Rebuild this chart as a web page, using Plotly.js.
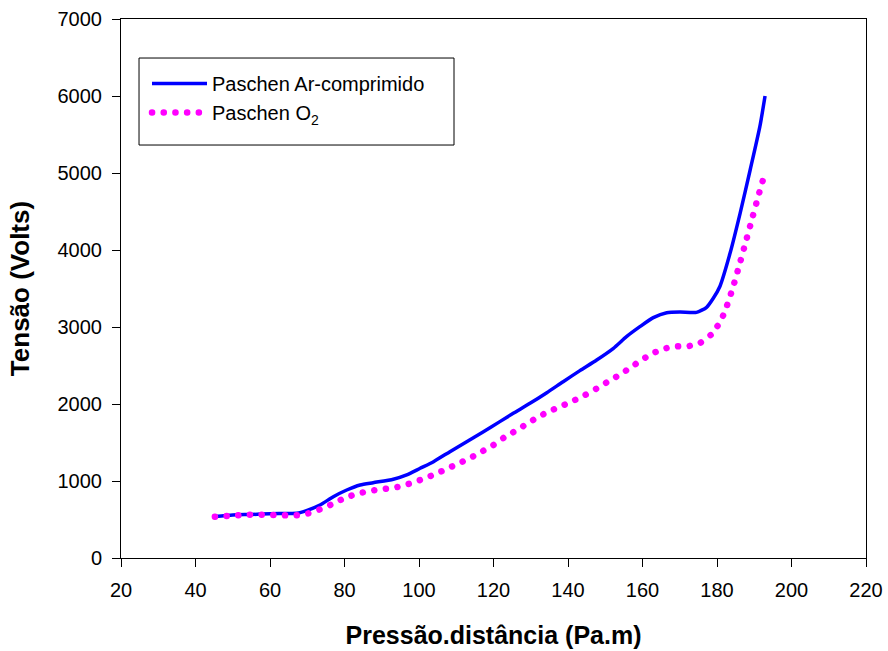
<!DOCTYPE html>
<html>
<head>
<meta charset="utf-8">
<script src="https://cdn.plot.ly/plotly-3.0.1.min.js"></script>
<style>
html,body{margin:0;padding:0;background:#fff;}
#chart{width:888px;height:651px;}
.o2dots path.js-line{stroke-linecap:round;}
</style>
</head>
<body>
<div id="chart"></div>
<script>
// Series: Paschen Ar-comprimido
var arX = [45.2, 50, 55, 60, 65, 67.2, 69.8, 73.4, 77.0, 80.6, 84.2, 87.7, 93.1, 96.7, 100.3, 103.9, 108.3, 112.8, 117.3, 121.7, 125.3, 129.8, 134.3, 138.7, 143.2, 147.7, 152.2, 155.7, 159.3, 162.9, 166.5, 170.1, 174.5, 177.2, 179.0, 180.8, 183.5, 186.2, 188.9, 191.5, 192.9];
var arV = [540, 560, 565, 575, 578, 580, 615, 688, 796, 883, 948, 978, 1022, 1078, 1165, 1251, 1381, 1511, 1640, 1771, 1879, 2009, 2147, 2290, 2433, 2571, 2723, 2874, 3004, 3121, 3186, 3195, 3190, 3256, 3373, 3530, 3957, 4476, 5039, 5602, 6000];

// Series: Paschen O2
var o2X = [45.2, 48.4, 54.6, 60.9, 67.2, 70.3, 73.4, 76.6, 79.5, 82.6, 85.8, 88.9, 91.9, 95.1, 98.2, 101.3, 104.4, 107.4, 110.5, 113.7, 116.8, 119.9, 122.9, 126.0, 129.2, 132.1, 135.2, 138.3, 141.5, 144.6, 147.6, 150.7, 153.9, 156.9, 160.0, 163.1, 166.2, 169.3, 172.4, 175.4, 178.5, 180.6, 182.1, 184.2, 186.0, 187.7, 189.4, 191.1, 192.9];
var o2V = [536, 545, 563, 558, 554, 580, 632, 697, 766, 823, 861, 887, 905, 931, 978, 1030, 1091, 1156, 1225, 1299, 1381, 1464, 1567, 1653, 1749, 1835, 1909, 1974, 2043, 2117, 2199, 2290, 2381, 2477, 2580, 2666, 2723, 2749, 2753, 2792, 2905, 3048, 3199, 3502, 3805, 4100, 4403, 4701, 5004];

var seriesNames = ['Paschen Ar-comprimido', 'Paschen O<sub>2</sub>'];
var xTicks = [20, 40, 60, 80, 100, 120, 140, 160, 180, 200, 220];
var yTicks = [0, 1000, 2000, 3000, 4000, 5000, 6000, 7000];
var xTitle = 'Pressão.distância (Pa.m)';
var yTitle = 'Tensão (Volts)';

var font = 'Arial, "Liberation Sans", sans-serif';

var traces = [
  {x: arX, y: arV, name: seriesNames[0], type: 'scatter', mode: 'lines',
   line: {color: '#0000FF', width: 3.5, shape: 'spline', smoothing: 0.6}},
  {x: o2X, y: o2V, name: seriesNames[1], type: 'scatter', mode: 'lines',
   line: {color: '#FF00FF', width: 6.5, shape: 'spline', smoothing: 0.6, dash: '0.1px,11.6px'}}
];

var axisCommon = {
  showgrid: false, zeroline: false, showline: true, linecolor: '#000', linewidth: 1,
  mirror: true, ticks: 'outside', ticklen: 8, tickcolor: '#000', tickwidth: 1,
  tickfont: {family: font, size: 20, color: '#000'}
};

var layout = {
  width: 888, height: 651,
  margin: {l: 121, r: 22, t: 19, b: 93},
  paper_bgcolor: '#fff', plot_bgcolor: '#fff',
  showlegend: true,
  xaxis: Object.assign({}, axisCommon, {
    range: [20, 220], tickvals: xTicks, ticktext: xTicks.map(String),
    ticklabelstandoff: 6,
    title: {text: '<b>' + xTitle + '</b>', font: {family: font, size: 25, color: '#000'}, standoff: 26}
  }),
  yaxis: Object.assign({}, axisCommon, {
    range: [0, 7000], tickvals: yTicks, ticktext: yTicks.map(String),
    ticklabelstandoff: 6,
    title: {text: '<b>' + yTitle + '</b>', font: {family: font, size: 26, color: '#000'}, standoff: 20}
  }),
  shapes: [{
    type: 'rect', xref: 'paper', yref: 'paper',
    x0: 0.0242, x1: 0.447, y0: 0.7662, y1: 0.9276,
    line: {color: '#000', width: 1}, fillcolor: 'rgba(0,0,0,0)', layer: 'above'
  }],
  legend: {
    x: 0.0349, y: 0.9165, xanchor: 'left', yanchor: 'top',
    bgcolor: 'rgba(0,0,0,0)', borderwidth: 0,
    font: {family: font, size: 20, color: '#000'},
    itemwidth: 55
  }
};

Plotly.newPlot('chart', traces, layout, {displayModeBar: false, staticPlot: true}).then(function(){
  var gd = document.getElementById('chart');
  var tr = gd.querySelectorAll('.scatterlayer .trace');
  if (tr[1]) tr[1].classList.add('o2dots');
  var legTraces = gd.querySelectorAll('.legend .traces');
  if (legTraces[1]) legTraces[1].classList.add('o2dots');
});
</script>
</body>
</html>
